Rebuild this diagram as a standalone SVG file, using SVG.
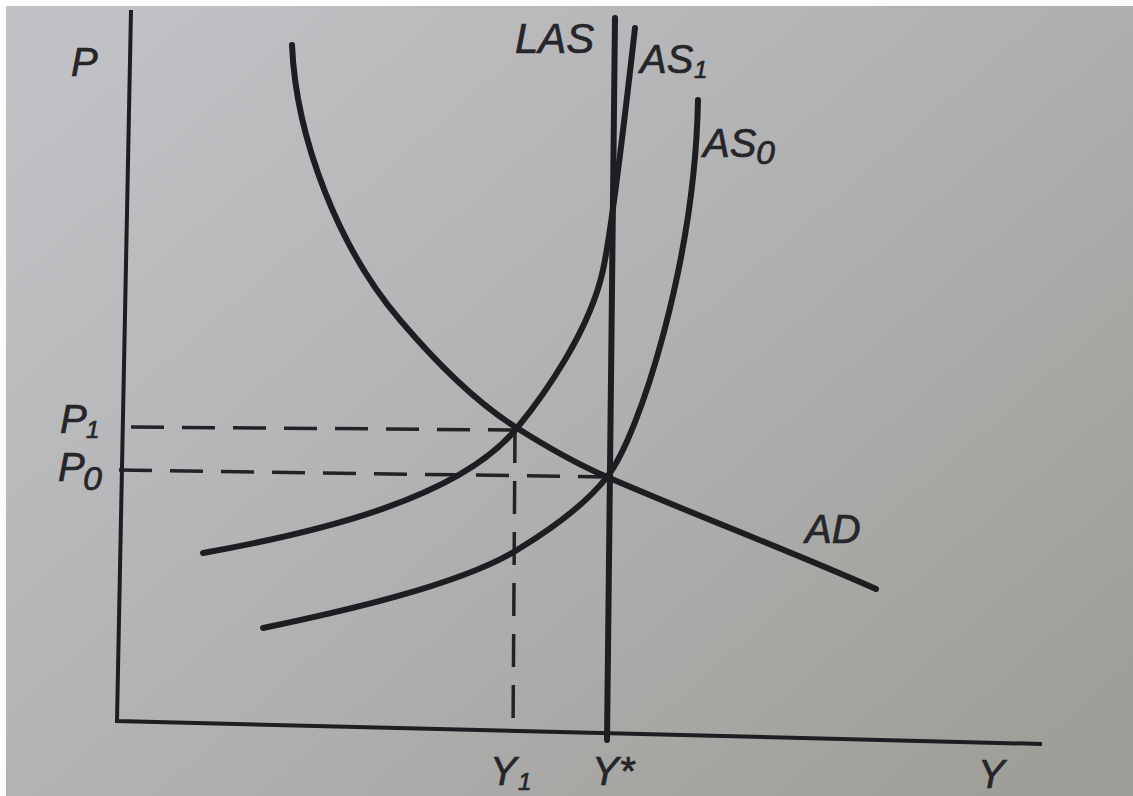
<svg xmlns="http://www.w3.org/2000/svg" width="1133" height="796" viewBox="0 0 1133 796">
  <defs>
    <linearGradient id="bg" x1="0" y1="0.1" x2="1" y2="0.9">
      <stop offset="0" stop-color="#c1c2c5"/>
      <stop offset="0.5" stop-color="#b1b1b2"/>
      <stop offset="1" stop-color="#9e9d97"/>
    </linearGradient>
    <style>
      .ax { fill: none; stroke: #1e1d21; stroke-width: 4; stroke-linejoin: miter; }
      .crv { fill: none; stroke: #1e1d21; stroke-width: 6; stroke-linecap: round; stroke-linejoin: round; }
      .dash { fill: none; stroke: #232226; stroke-width: 3.5; stroke-dasharray: 33 18; }
      text { font-family: "Liberation Sans", Arial, sans-serif; font-style: italic; fill: #26252a; stroke: #26252a; stroke-width: 0.7; }
      .lb { font-size: 40px; }
      .s1 { font-size: 24px; }
      .s0 { font-size: 34px; }
    </style>
  </defs>

  <rect x="0" y="0" width="1133" height="796" fill="#fdfdfd"/>
  <rect x="6" y="6" width="1127" height="790" fill="url(#bg)"/>

  <g id="axes">
    <path class="ax" d="M131,10 L117,721 L1042,744"/>
    <text class="lb" x="71" y="76">P</text>
    <text class="lb" x="978" y="788">Y</text>
  </g>

  <g id="connectors">
    <path id="dash-p1" class="dash" d="M131,427 L517,430"/>
    <path id="dash-p0" class="dash" d="M119,470 L607,477"/>
    <path id="dash-y1" class="dash" d="M515,430 L513,735"/>
  </g>

  <g id="LAS">
    <path class="crv" d="M615,18 L607,740"/>
    <text class="lb" x="515" y="53" style="font-size:42px">LAS</text>
  </g>

  <g id="AS1">
    <path class="crv" d="M203,553 C320,532 460,498 517,428 C545,394 590,330 603,270 C611,233 628,90 635,28"/>
    <text class="lb" x="640" y="73">AS</text>
    <text class="s1" x="694" y="78">1</text>
  </g>

  <g id="AS0">
    <path class="crv" d="M263,628 C340,612 460,585 517,550 C550,530 585,505 607,477 C640,435 695,260 698,100"/>
    <text class="lb" x="703" y="157">AS</text>
    <text class="s0" x="756" y="164">0</text>
  </g>

  <g id="AD">
    <path class="crv" d="M292,45 C296,140 340,250 400,320 C440,367 480,405 517,428 C547,447 577,464 607,477 C700,517 790,551 876,589"/>
    <text class="lb" x="805" y="543">AD</text>
  </g>

  <g id="P1">
    <text class="lb" x="60" y="433">P</text>
    <text class="s1" x="86" y="438">1</text>
  </g>
  <g id="P0">
    <text class="lb" x="58" y="481">P</text>
    <text class="s0" x="83" y="490">0</text>
  </g>
  <g id="Y1">
    <text class="lb" x="490" y="785">Y</text>
    <text class="s1" x="518" y="790">1</text>
  </g>
  <g id="Ystar">
    <text class="lb" x="592" y="785">Y*</text>
  </g>
</svg>
